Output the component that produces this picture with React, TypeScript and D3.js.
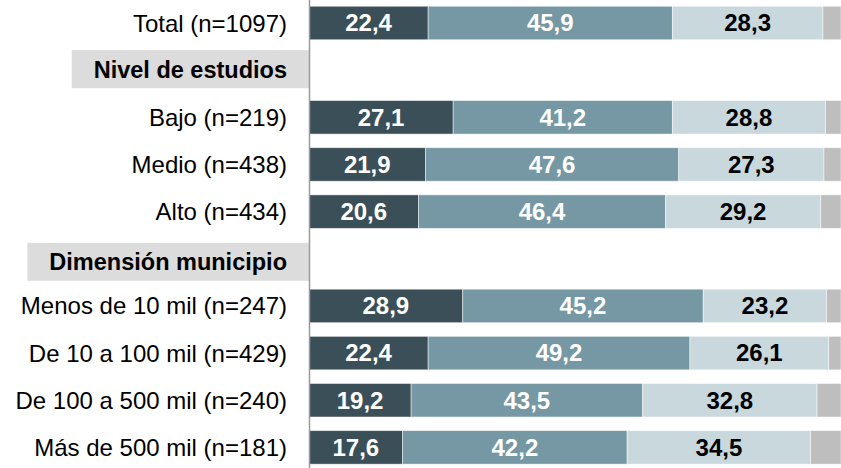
import React, { useEffect, useRef } from "react";
import * as d3 from "d3";

const WIDTH = 841;
const HEIGHT = 468;

const rowLabels = [
  "Total (n=1097)",
  "Nivel de estudios",
  "Bajo (n=219)",
  "Medio (n=438)",
  "Alto (n=434)",
  "Dimensión municipio",
  "Menos de 10 mil (n=247)",
  "De 10 a 100 mil (n=429)",
  "De 100 a 500 mil (n=240)",
  "Más de 500 mil (n=181)",
];
const isHeader = [false, true, false, false, false, true, false, false, false, false];

const series1 = [22.4, null, 27.1, 21.9, 20.6, null, 28.9, 22.4, 19.2, 17.6];
const series2 = [45.9, null, 41.2, 47.6, 46.4, null, 45.2, 49.2, 43.5, 42.2];
const series3 = [28.3, null, 28.8, 27.3, 29.2, null, 23.2, 26.1, 32.8, 34.5];
const series4 = [3.4, null, 2.9, 3.2, 3.8, null, 2.7, 2.3, 4.5, 5.7];

const seriesList = [series1, series2, series3, series4];
const colors = ["#3a4f57", "#7598a4", "#c9d8dd", "#bebebe"];
const textColors = ["#ffffff", "#ffffff", "#000000", null];

const FONT = "'Liberation Sans', Arial, Helvetica, sans-serif";

export default function App() {
  const ref = useRef<SVGSVGElement | null>(null);

  useEffect(() => {
    document.body.style.margin = "0";
    const svg = d3.select(ref.current);
    svg.selectAll("*").remove();

    const x = d3.scaleLinear().domain([0, 100]).range([309, 841]);
    const y = d3
      .scalePoint<string>()
      .domain(rowLabels)
      .range([23, 447.4]);
    const barH = 33.5;
    const labelX = 287;

    // bars
    rowLabels.forEach((lab, i) => {
      if (isHeader[i]) return;
      let acc = 0;
      const cy = y(lab)!;
      seriesList.forEach((s, k) => {
        const v = s[i] as number;
        const x0 = x(acc);
        const x1 = x(acc + v);
        svg
          .append("rect")
          .attr("x", x0)
          .attr("y", cy - barH / 2)
          .attr("width", Math.max(0, x1 - x0))
          .attr("height", barH)
          .attr("fill", colors[k])
          .attr("stroke", "#ffffff")
          .attr("stroke-opacity", 0.6)
          .attr("stroke-width", 0.8);
        if (textColors[k]) {
          svg
            .append("text")
            .attr("x", (x0 + x1) / 2)
            .attr("y", cy + 8.4)
            .attr("text-anchor", "middle")
            .attr("font-family", FONT)
            .attr("font-weight", "bold")
            .attr("font-size", 24)
            .attr("fill", textColors[k] as string)
            .text(v.toFixed(1).replace(".", ","));
        }
        acc += v;
      });
    });

    // labels
    rowLabels.forEach((lab, i) => {
      const cy = y(lab)!;
      if (isHeader[i]) {
        const cyh = i === 5 ? cy + 3 : cy - 1;
        const g = svg.append("g");
        const rect = g.append("rect").attr("fill", "#dcdcdc");
        const t = g
          .append("text")
          .attr("x", labelX)
          .attr("y", cyh + 8.4)
          .attr("text-anchor", "end")
          .attr("font-family", FONT)
          .attr("font-weight", "bold")
          .attr("font-size", 23.5)
          .attr("fill", "#000")
          .text(lab);
        const w = (t.node() as SVGTextElement).getComputedTextLength();
        rect
          .attr("x", labelX - w - 22)
          .attr("y", cyh - 19)
          .attr("width", w + 44)
          .attr("height", 38);
      } else {
        svg
          .append("text")
          .attr("x", labelX)
          .attr("y", cy + 8.5)
          .attr("text-anchor", "end")
          .attr("font-family", FONT)
          .attr("font-size", 24)
          .attr("fill", "#000")
          .text(lab);
      }
    });

    // axis line
    svg
      .append("line")
      .attr("x1", 309.5)
      .attr("x2", 309.5)
      .attr("y1", 0)
      .attr("y2", HEIGHT)
      .attr("stroke", "#9a9a9a")
      .attr("stroke-width", 1.5);
  }, []);

  return (
    <svg
      ref={ref}
      width={WIDTH}
      height={HEIGHT}
      style={{ position: "absolute", left: 0, top: 0, display: "block", background: "#fff" }}
    />
  );
}
